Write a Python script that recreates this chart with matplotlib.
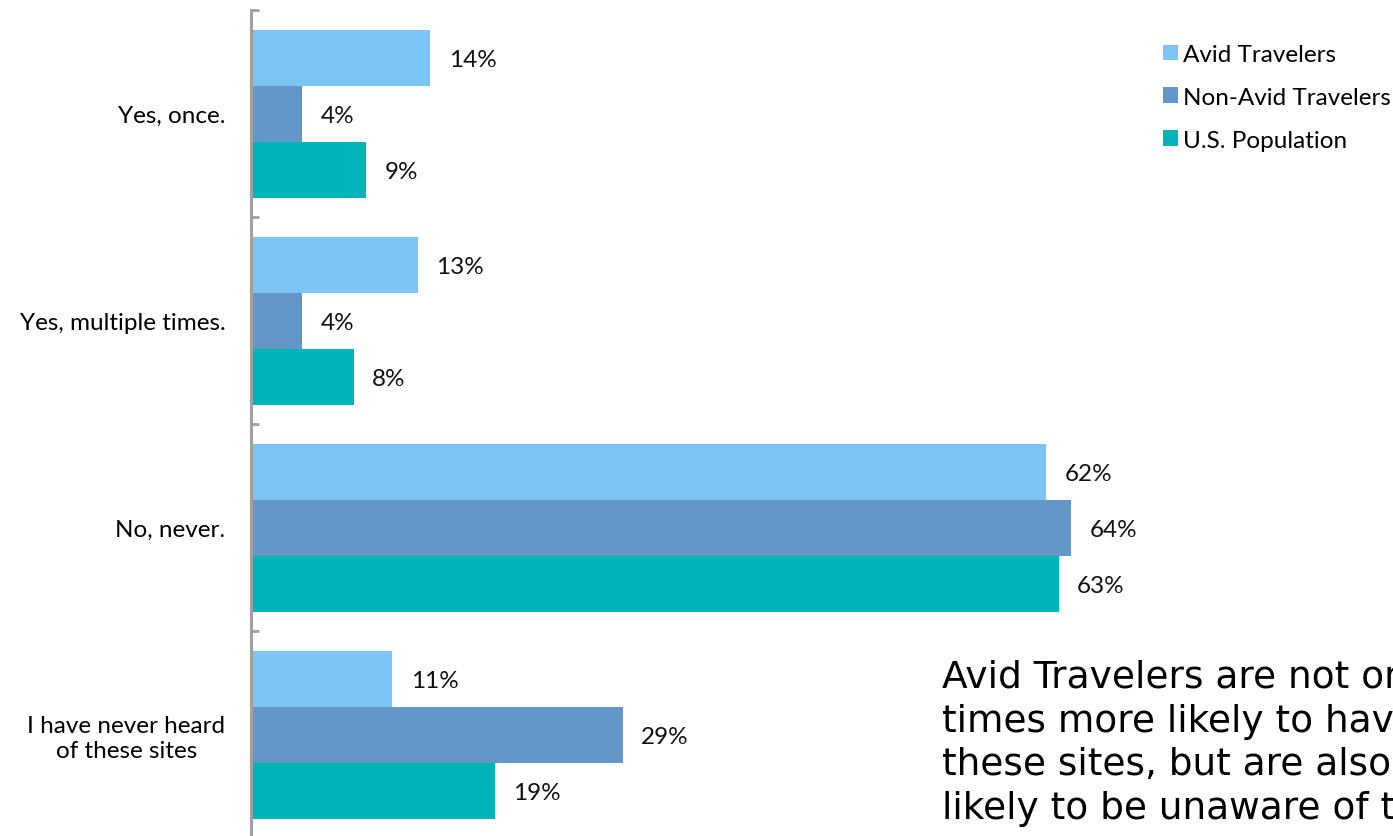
import numpy as np
import matplotlib
matplotlib.use("Agg")
from matplotlib import pyplot as plt
from matplotlib.patches import Patch

categories = ["Yes, once.", "Yes, multiple times.", "No, never.", "I have never heard\nof these sites"]
series = ["Avid Travelers", "Non-Avid Travelers", "U.S. Population"]
avid = [14, 13, 62, 11]
non_avid = [4, 4, 64, 29]
us_pop = [9, 8, 63, 19]
colors = ["#7AC5F5", "#6396C9", "#00B5BA"]

note = ("Avid Travelers are not only\n"
        "times more likely to have\n"
        "these sites, but are also as\n"
        "likely to be unaware of them")

plt.rcParams['font.family'] = ['Lato', 'DejaVu Sans']

fig = plt.figure(figsize=(13.93, 8.37), dpi=100)
W, H = 1393, 837
# axes: left spine at x=251, top at y=10, each category band 207 px
ax = fig.add_axes([251 / W, (H - 839) / H, (W - 251) / W, 828 / H])

y = np.arange(len(categories))
bh = 56 / 207
values = [avid, non_avid, us_pop]
for i, (vals, c) in enumerate(zip(values, colors)):
    pos = y + (i - 1) * bh
    ax.barh(pos, vals, height=bh, color=c, edgecolor="none")
    for p, v in zip(pos, vals):
        ax.text(v + 1.45, p, f"{v}%", va="center_baseline", ha="left", fontsize=17.5, color="#111111")

ax.set_xlim(0, (W - 251) / 12.82)
ax.set_ylim(len(categories) - 0.5, -0.5)

ax.set_yticks(y)
ax.set_yticklabels(categories, fontsize=17.5, multialignment="center")
ax.tick_params(axis="y", which="major", length=0, pad=18.5)
ax.set_yticks(np.arange(len(categories) + 1) - 0.5, minor=True)
ax.tick_params(axis="y", which="minor", direction="in", length=6, width=2, color="#A0A0A0")
ax.set_xticks([])

for s in ["top", "right", "bottom"]:
    ax.spines[s].set_visible(False)
ax.spines["left"].set_color("#A0A0A0")
ax.spines["left"].set_linewidth(2.2)

handles = [Patch(facecolor=c, edgecolor="none") for c in colors]
fig.legend(handles, series, loc="upper left", bbox_to_anchor=(1163 / W, 1 - 45 / H),
           frameon=False, fontsize=17.5, handlelength=0.62, handleheight=0.62,
           handletextpad=0.2, labelspacing=0.9, borderpad=0, borderaxespad=0)

fig.text(942 / W, 1 - 660 / H, note, ha="left", va="top", fontsize=27,
         family=["DejaVu Sans"], linespacing=1.27, color="black")

fig.savefig("out.png", dpi=100)
